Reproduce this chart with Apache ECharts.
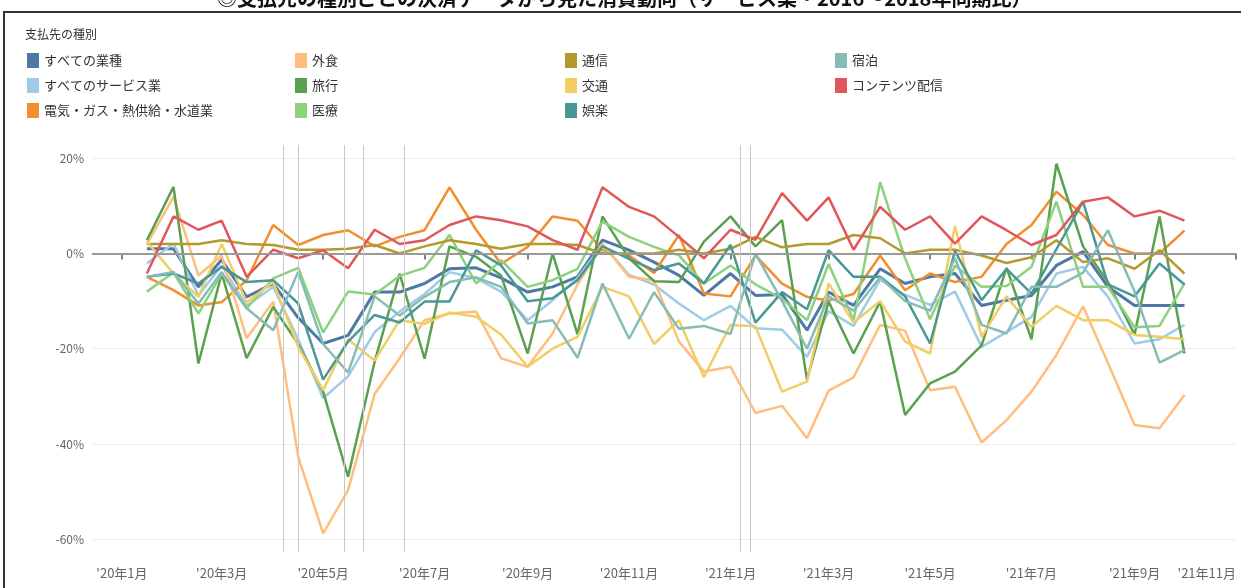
<!DOCTYPE html>
<html>
<head>
<meta charset="utf-8">
<script src="https://cdn.jsdelivr.net/npm/echarts@6.0.0/dist/echarts.min.js"></script>
<style>
  html, body { margin: 0; padding: 0; background: #fff; }
  #chart { width: 1241px; height: 588px; }
</style>
</head>
<body>
<div id="chart"></div>
<script>
// semi-monthly points (前半 = 1st, 後半 = 16th)
var dates = ['2020-01-16','2020-02-01','2020-02-16','2020-03-01','2020-03-16','2020-04-01','2020-04-16','2020-05-01','2020-05-16','2020-06-01','2020-06-16','2020-07-01','2020-07-16','2020-08-01','2020-08-16','2020-09-01','2020-09-16','2020-10-01','2020-10-16','2020-11-01','2020-11-16','2020-12-01','2020-12-16',
             '2021-01-01','2021-01-16','2021-02-01','2021-02-16','2021-03-01','2021-03-16','2021-04-01','2021-04-16','2021-05-01','2021-05-16','2021-06-01','2021-06-16','2021-07-01','2021-07-16','2021-08-01','2021-08-16','2021-09-01','2021-09-16','2021-10-01'];

// values in %
var allIndustry   = [1.0,1.0,-7.0,-1.3,-9.1,-6.3,-13.5,-18.9,-17.2,-8.1,-8.1,-6.3,-3.2,-3.0,-5.1,-8.1,-7.0,-4.9,2.8,0.7,-1.8,-4.6,-8.8,
                     -4.2,-8.8,-8.6,-16.1,-8.1,-10.9,-3.2,-6.3,-4.9,-4.2,-10.9,-9.8,-8.8,-2.5,0.4,-7.0,-10.9,-10.9,-10.9];
var allService    = [-2.1,2.1,-8.8,-2.5,-11.0,-7.0,-18.0,-30.4,-25.8,-16.5,-12.2,-8.5,-3.9,-5.2,-8.0,-14.0,-9.8,-5.2,2.0,-4.5,-6.5,-10.5,-14.0,
                     -11.0,-15.7,-16.0,-21.7,-12.1,-15.2,-5.5,-8.7,-10.8,-8.0,-19.6,-16.5,-13.3,-4.2,-2.8,-9.1,-18.9,-18.0,-15.0];
var utility       = [-4.9,-7.7,-10.9,-10.2,-5.6,6.0,1.8,3.9,4.9,1.5,3.5,4.9,13.9,5.0,-2.2,1.4,7.8,6.9,0.7,-0.4,-4.1,3.9,-8.4,
                     -9.0,-0.4,-6.3,-9.1,-9.9,-8.5,-0.4,-7.7,-4.2,-6.0,-4.9,2.0,6.0,13.0,8.1,1.8,0,0,4.8];
var eatingOut     = [2.0,11.9,-4.6,-0.4,-17.8,-10.1,-42.7,-58.8,-49.7,-29.5,-22.0,-14.0,-12.6,-12.2,-22.0,-23.8,-16.8,-6.5,2.0,-4.9,-5.6,-18.5,-24.8,
                     -23.8,-33.5,-32.0,-38.8,-28.8,-26.0,-15.0,-16.2,-28.7,-28.0,-39.7,-35.0,-29.0,-21.3,-11.1,-23.0,-36.0,-36.7,-29.7];
var travel        = [2.8,14.0,-23.1,-4.2,-22.0,-11.2,-19.0,-29.0,-46.9,-22.7,-4.2,-22.1,1.5,-0.7,-4.6,-21.0,0,-17.0,7.8,-1.0,-5.8,-6.0,2.5,
                     7.8,1.5,7.0,-26.5,-10.1,-21.0,-10.1,-33.9,-27.3,-24.8,-19.3,-3.0,-18.0,18.9,1.5,-6.0,-17.0,7.8,-21.0];
var medical       = [-8.0,-4.0,-12.6,-4.2,-11.5,-5.2,-3.0,-16.6,-8.0,-8.6,-4.7,-3.0,3.9,-6.3,-1.4,-7.0,-5.6,-3.2,6.7,3.5,1.4,-0.4,-6.3,
                     -2.5,-6.5,-9.5,-14.0,-2.2,-14.0,15.0,-1.0,-13.8,-2.5,-7.0,-6.8,-2.8,10.9,-7.0,-7.0,-15.5,-15.2,-6.3];
var telecom       = [2.0,2.0,2.0,2.8,2.0,1.8,0.8,0.8,1.0,1.8,0,1.5,2.8,2.0,1.0,2.0,2.0,1.8,0,0,0,0.8,0,
                     1.0,3.5,1.3,2.0,2.0,3.9,3.2,0,0.8,0.8,-0.4,-2.0,-0.8,2.8,-1.8,-1.0,-3.2,0.7,-4.2];
var transport     = [2.5,-4.2,-9.1,2.0,-10.3,-6.0,-19.6,-28.7,-18.0,-22.5,-14.0,-14.8,-12.4,-13.3,-17.0,-23.8,-20.0,-17.5,-7.0,-9.0,-19.0,-14.0,-26.0,
                     -15.0,-15.3,-29.0,-26.9,-6.3,-14.5,-10.0,-18.5,-21.0,5.8,-17.5,-9.0,-15.4,-11.0,-14.0,-14.0,-17.1,-17.5,-18.0];
var entertainment = [-4.9,-4.2,-6.3,-2.8,-6.0,-5.6,-10.5,-26.5,-18.5,-12.9,-14.5,-10.1,-10.1,0.7,-2.5,-10.0,-9.4,-5.6,1.5,-1.1,-3.5,-2.1,-6.3,
                     1.8,-14.5,-8.1,-11.7,0.7,-4.9,-4.9,-9.0,-18.9,0.5,-9.8,-3.2,-8.4,0.9,10.9,-6.5,-9.0,-2.1,-6.5];
var lodging       = [-4.9,-3.9,-10.5,-3.9,-11.5,-16.1,-3.8,-19.0,-25.0,-9.0,-13.0,-9.1,-6.0,-5.0,-7.0,-14.7,-14.0,-21.9,-6.3,-17.9,-8.1,-15.8,-15.2,
                     -16.9,0,-10.0,-20.0,-9.0,-12.0,-5.0,-10.0,-12.0,-1.0,-15.0,-16.8,-7.0,-7.0,-4.0,4.9,-8.0,-22.9,-20.3];
var contents      = [-4.2,7.8,5.0,6.9,-4.9,0.8,-1.0,0.7,-3.1,5.0,2.0,2.8,6.0,7.8,7.0,5.7,2.8,0.8,13.9,9.8,7.8,3.5,-1.0,
                     5.0,2.9,12.7,6.9,11.8,0.8,9.8,5.0,7.8,2.1,7.8,4.9,1.8,3.9,10.9,11.8,7.8,9.0,6.9];

var seriesNames  = ['すべての業種','すべてのサービス業','電気・ガス・熱供給・水道業','外食','旅行','医療','通信','交通','娯楽','宿泊','コンテンツ配信'];
var seriesValues = [allIndustry, allService, utility, eatingOut, travel, medical, telecom, transport, entertainment, lodging, contents];
var seriesColors = ['#4e79a7','#a0cbe8','#f28e2b','#ffbe7d','#59a14f','#8cd17d','#b6992d','#f1ce63','#499894','#86bcb6','#e15759'];

// x axis labels every 2 months
var tickDates  = ['2020-01-01','2020-03-01','2020-05-01','2020-07-01','2020-09-01','2020-11-01','2021-01-01','2021-03-01','2021-05-01','2021-07-01','2021-09-01','2021-11-01'];
var yTicks     = [-60,-40,-20,0,20];
// 緊急事態宣言などの区切り
var eventDates = ['2020-04-07','2020-04-16','2020-05-14','2020-05-25','2020-06-19','2021-01-07','2021-01-13'];

function ts(s) {
    var p = s.split('-');
    return new Date(+p[0], +p[1] - 1, +p[2]).getTime();
}

var font = 'Noto Sans CJK JP';
var chart = echarts.init(document.getElementById('chart'));

var series = seriesNames.map(function (name, i) {
    var s = {
        name: name,
        type: 'line',
        symbol: 'none',
        color: seriesColors[i],
        lineStyle: { width: i === 0 ? 3 : 2.5 },
        data: seriesValues[i].map(function (v, k) { return [ts(dates[k]), v]; }),
        silent: true
    };
    if (i === 0) {
        s.markLine = {
            silent: true,
            symbol: 'none',
            label: { show: false },
            data: [{ yAxis: 0, lineStyle: { color: '#999', width: 2, type: 'solid' } }].concat(
                eventDates.map(function (d) {
                    return { xAxis: ts(d), lineStyle: { color: '#c8c8c8', width: 1, type: 'solid' } };
                }))
        };
    }
    return s;
});

// legend laid out in 4 columns like the original
var legendCols = [[0, 1, 2], [3, 4, 5], [6, 7, 8], [9, 10]];
var legendLeft = [22, 290, 560, 830];
var legends = legendCols.map(function (col, c) {
    return {
        orient: 'vertical',
        left: legendLeft[c],
        top: 48,
        itemWidth: 12,
        itemHeight: 15,
        itemGap: 10,
        icon: 'rect',
        selectedMode: false,
        textStyle: { fontSize: 13, color: '#333', fontFamily: font },
        data: col.map(function (k) { return seriesNames[k]; })
    };
});

chart.setOption({
    animation: false,
    textStyle: { fontFamily: font },
    title: [{
        text: '◎支払先の種別ごとの決済データから見た消費動向（サービス業・2016～2018年同期比）',
        left: 212,
        top: -17,
        textStyle: { fontSize: 20, fontWeight: 'bold', color: '#111', fontFamily: font }
    }, {
        text: '支払先の種別',
        left: 20,
        top: 23,
        textStyle: { fontSize: 12, fontWeight: 'normal', color: '#333', fontFamily: font }
    }],
    graphic: [{
        type: 'rect',
        silent: true,
        shape: { x: 4, y: 12, width: 1250, height: 600 },
        style: { fill: 'none', stroke: '#333', lineWidth: 2 }
    }],
    legend: legends,
    grid: { left: 92, right: 5, top: 145, bottom: 36 },
    xAxis: {
        type: 'value',
        min: ts('2019-12-14'),
        max: ts('2021-11-01'),
        axisLine: { show: false },
        axisTick: {
            show: true, length: 6, customValues: tickDates.map(ts),
            lineStyle: { color: '#555', width: 1.5 }
        },
        splitLine: { show: false },
        axisLabel: {
            customValues: tickDates.map(ts),
            margin: 15,
            fontSize: 13,
            color: '#666',
            alignMaxLabel: 'right',
            formatter: function (v) {
                var d = new Date(v);
                return "'" + String(d.getFullYear()).slice(2) + '年' + (d.getMonth() + 1) + '月';
            }
        }
    },
    yAxis: {
        type: 'value',
        min: -62.7,
        max: 22.8,
        axisLine: { show: false },
        axisTick: { show: false, customValues: yTicks },
        splitLine: { lineStyle: { color: '#ececec', width: 1 } },
        axisLabel: {
            customValues: yTicks,
            margin: 8,
            fontSize: 12,
            color: '#666',
            formatter: function (v) { return v + '%'; }
        }
    },
    series: series
});
</script>
</body>
</html>
